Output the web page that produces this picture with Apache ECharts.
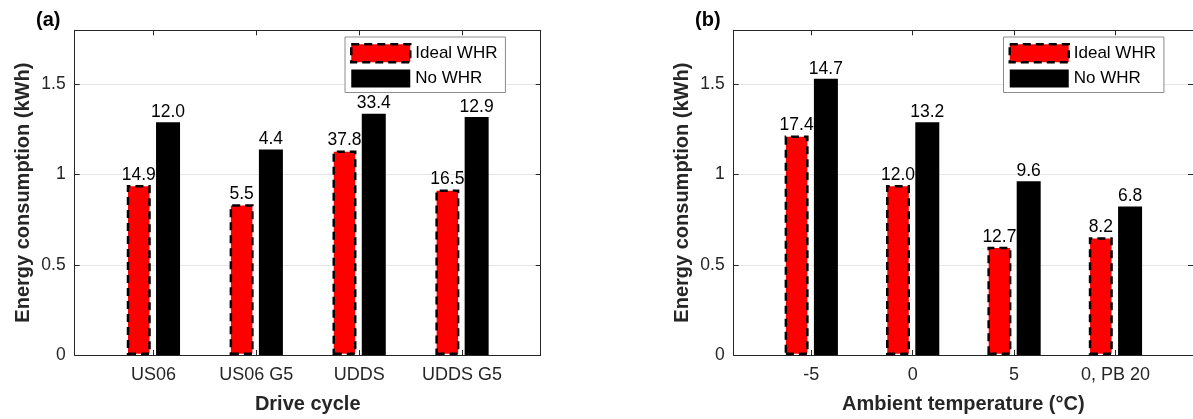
<!DOCTYPE html>
<html>
<head>
<meta charset="utf-8">
<script src="https://cdn.jsdelivr.net/npm/echarts@6/dist/echarts.min.js"></script>
<style>
  html, body { margin: 0; padding: 0; background: #fff; }
  #main { width: 1193px; height: 419px; }
</style>
</head>
<body>
<div id="main"></div>
<script>
// panel (a): drive cycles
var cyclesA = ['US06', 'US06 G5', 'UDDS', 'UDDS G5'];
var idealA = [0.942, 0.836, 1.134, 0.918];
var noWhrA = [1.290, 1.139, 1.338, 1.320];
var idealLabA = ['14.9', '5.5', '37.8', '16.5'];
var noWhrLabA = ['12.0', '4.4', '33.4', '12.9'];

// panel (b): ambient temperature
var tempsB = ['-5', '0', '5', '0, PB 20'];
var idealB = [1.217, 0.942, 0.600, 0.653];
var noWhrB = [1.531, 1.290, 0.963, 0.823];
var idealLabB = ['17.4', '12.0', '12.7', '8.2'];
var noWhrLabB = ['14.7', '13.2', '9.6', '6.8'];

var yTicks = [0, 0.5, 1, 1.5];

var FONT = "'Liberation Sans', Arial, Helvetica, sans-serif";
var AX = '#262626';

var dom = document.getElementById('main');
var myChart = echarts.init(dom, null, { renderer: 'canvas' });

function pos(arr) {
    return arr.map(function (v, i) { return i + 1; });
}
function pairs(arr) {
    return arr.map(function (v, i) { return [i + 1, v]; });
}

function xAxes(cats, gi, title) {
    var ticks = pos(cats);
    return [{
        type: 'value', gridIndex: gi, min: 0.235, max: 4.765, position: 'bottom',
        name: title, nameLocation: 'middle', nameGap: 39,
        nameTextStyle: { fontFamily: FONT, fontSize: 20, fontWeight: 'bold', color: AX },
        axisLine: { show: true, onZero: false, lineStyle: { color: AX, width: 1 } },
        axisTick: { show: true, inside: true, length: 5, customValues: ticks, lineStyle: { color: AX } },
        axisLabel: {
            customValues: ticks, margin: 11, fontFamily: FONT, fontSize: 18, color: AX,
            formatter: function (v) { return cats[Math.round(v) - 1]; }
        },
        splitLine: { show: false }
    }, {
        type: 'value', gridIndex: gi, min: 0.235, max: 4.765, position: 'top',
        axisLine: { show: true, onZero: false, lineStyle: { color: AX, width: 1 } },
        axisTick: { show: true, inside: true, length: 5, customValues: ticks, lineStyle: { color: AX } },
        axisLabel: { show: false },
        splitLine: { show: false }
    }];
}

function yAxes(gi) {
    return [{
        type: 'value', gridIndex: gi, min: 0, max: 1.8, interval: 0.5, position: 'left',
        name: 'Energy consumption (kWh)', nameLocation: 'middle', nameGap: 41,
        nameTextStyle: { fontFamily: FONT, fontSize: 20, fontWeight: 'bold', color: AX },
        axisLine: { show: true, lineStyle: { color: AX, width: 1 } },
        axisTick: { show: true, inside: true, length: 5, customValues: yTicks, lineStyle: { color: AX } },
        axisLabel: { margin: 9, fontFamily: FONT, fontSize: 17.5, color: AX, customValues: yTicks },
        splitLine: { show: true, lineStyle: { color: '#e6e6e6', width: 1 } }
    }, {
        type: 'value', gridIndex: gi, min: 0, max: 1.8, interval: 0.5, position: 'right',
        axisLine: { show: true, lineStyle: { color: AX, width: 1 } },
        axisTick: { show: true, inside: true, length: 5, customValues: yTicks, lineStyle: { color: AX } },
        axisLabel: { show: false },
        splitLine: { show: false }
    }];
}

var idealStyle = { color: '#ff0000', borderColor: '#000', borderWidth: 2.5, borderType: [8, 5] };
var noStyle = { color: '#000000' };

function barSeries(name, vals, labs, axIdx, style) {
    return {
        name: name, type: 'bar',
        xAxisIndex: axIdx, yAxisIndex: axIdx,
        data: pairs(vals),
        barWidth: 24, barGap: '22%',
        itemStyle: style,
        label: {
            show: true, position: 'top', distance: 1,
            fontFamily: FONT, fontSize: 17.5, color: '#000',
            formatter: function (p) { return labs[p.dataIndex]; }
        }
    };
}

function legendAt(left) {
    return {
        left: left, top: 37, orient: 'vertical',
        itemWidth: 59, itemHeight: 18, itemGap: 6,
        padding: [6, 8, 5, 5],
        borderColor: '#8c8c8c', borderWidth: 1, backgroundColor: '#fff',
        textStyle: { fontFamily: FONT, fontSize: 17, color: '#000', lineHeight: 18 },
        data: [
            { name: 'Ideal WHR', icon: 'rect', itemStyle: idealStyle },
            { name: 'No WHR', icon: 'rect', itemStyle: noStyle }
        ],
        selectedMode: false
    };
}

var option = {
    animation: false,
    backgroundColor: '#fff',
    title: [
        { text: '(a)', left: 36, top: 10, padding: 0,
          textStyle: { fontFamily: FONT, fontSize: 20, fontWeight: 'bold', color: '#000' } },
        { text: '(b)', left: 695, top: 10, padding: 0,
          textStyle: { fontFamily: FONT, fontSize: 20, fontWeight: 'bold', color: '#000' } }
    ],
    grid: [
        { left: 74.7, top: 30.3, width: 466, height: 326 },
        { left: 733.7, top: 30.3, width: 466, height: 326 }
    ],
    legend: [legendAt(345), legendAt(1003.5)],
    xAxis: xAxes(cyclesA, 0, 'Drive cycle').concat(xAxes(tempsB, 1, 'Ambient temperature (\u00B0C)')),
    yAxis: yAxes(0).concat(yAxes(1)),
    series: [
        barSeries('Ideal WHR', idealA, idealLabA, 0, idealStyle),
        barSeries('No WHR', noWhrA, noWhrLabA, 0, noStyle),
        barSeries('Ideal WHR', idealB, idealLabB, 2, idealStyle),
        barSeries('No WHR', noWhrB, noWhrLabB, 2, noStyle)
    ]
};

if (option && typeof option === 'object') {
    myChart.setOption(option, true);
}
</script>
</body>
</html>
